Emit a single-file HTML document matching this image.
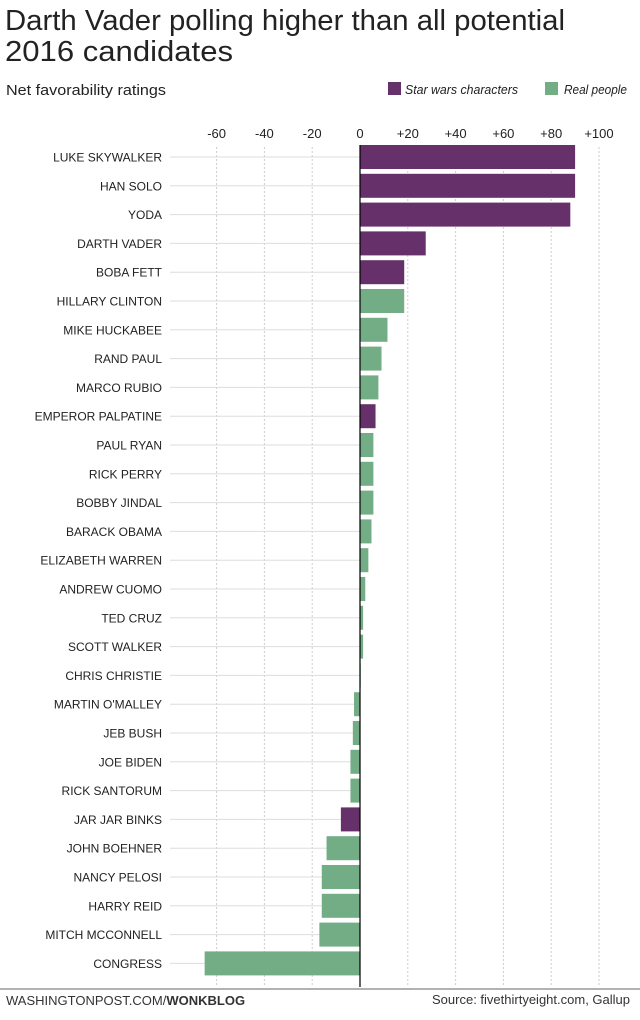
<!DOCTYPE html>
<html><head><meta charset="utf-8"><style>
body{margin:0;background:#fff;width:640px;height:1015px;overflow:hidden;font-family:"Liberation Sans",sans-serif}
</style></head><body>
<svg width="640" height="1015" xmlns="http://www.w3.org/2000/svg" font-family="Liberation Sans, sans-serif">
<text x="5" y="30" font-size="29" fill="#222" textLength="560" lengthAdjust="spacingAndGlyphs">Darth Vader polling higher than all potential</text>
<text x="5" y="61" font-size="29" fill="#222" textLength="228" lengthAdjust="spacingAndGlyphs">2016 candidates</text>
<text x="6" y="95" font-size="15" fill="#222" textLength="160" lengthAdjust="spacingAndGlyphs">Net favorability ratings</text>
<rect x="388" y="82" width="13" height="13" fill="#66306b"/>
<text x="405" y="94" font-size="12.5" font-style="italic" fill="#222" textLength="113" lengthAdjust="spacingAndGlyphs">Star wars characters</text>
<rect x="545" y="82" width="13" height="13" fill="#72ad86"/>
<text x="564" y="94" font-size="12.5" font-style="italic" fill="#222" textLength="63" lengthAdjust="spacingAndGlyphs">Real people</text>
<g id="grid" stroke="#ccc" stroke-width="1" stroke-dasharray="2,2"></g>
<g id="rows"></g>
<line x1="360" y1="145" x2="360" y2="987" stroke="#000" stroke-width="1.2"/>
<line x1="0" y1="989" x2="640" y2="989" stroke="#999" stroke-width="1.5"/>
<text x="6" y="1005" font-size="13" fill="#333">WASHINGTONPOST.COM/<tspan font-weight="bold">WONKBLOG</tspan></text>
<text x="630" y="1004" font-size="13" fill="#333" text-anchor="end">Source: fivethirtyeight.com, Gallup</text>
</svg>
<script>
var ns="http://www.w3.org/2000/svg",svg=document.querySelector('svg');
function el(t,a,p){var e=document.createElementNS(ns,t);for(var k in a)e.setAttribute(k,a[k]);(p||svg).appendChild(e);return e;}
var z=360,s=2.39;
var ticks=[-60,-40,-20,0,20,40,60,80,100];
var g=document.getElementById('grid'),r=document.getElementById('rows');
ticks.forEach(function(t){var x=z+t*s;
 if(t!=0)el('line',{x1:x,y1:147,x2:x,y2:986},g);
 var tx=el('text',{x:x,y:138,'font-size':13,fill:'#222','text-anchor':'middle'});tx.textContent=(t>0?'+':'')+t;});
var d=[["LUKE SKYWALKER",90,1],["HAN SOLO",90,1],["YODA",88,1],["DARTH VADER",27.5,1],["BOBA FETT",18.5,1],["HILLARY CLINTON",18.5,0],["MIKE HUCKABEE",11.5,0],["RAND PAUL",9,0],["MARCO RUBIO",7.7,0],["EMPEROR PALPATINE",6.5,1],["PAUL RYAN",5.6,0],["RICK PERRY",5.6,0],["BOBBY JINDAL",5.6,0],["BARACK OBAMA",4.8,0],["ELIZABETH WARREN",3.5,0],["ANDREW CUOMO",2.2,0],["TED CRUZ",1.3,0],["SCOTT WALKER",1.3,0],["CHRIS CHRISTIE",0.3,0],["MARTIN O'MALLEY",-2.5,0],["JEB BUSH",-3,0],["JOE BIDEN",-4,0],["RICK SANTORUM",-4,0],["JAR JAR BINKS",-8,1],["JOHN BOEHNER",-14,0],["NANCY PELOSI",-16,0],["HARRY REID",-16,0],["MITCH MCCONNELL",-17,0],["CONGRESS",-65,0]];
d.forEach(function(v,i){var y=157+i*28.8;
 var t=el('text',{x:162,y:y+4.5,'font-size':12,fill:'#222','text-anchor':'end'},r);t.textContent=v[0];
 var x0=z+Math.min(0,v[1])*s,w=Math.abs(v[1])*s;
 el('line',{x1:170,y1:y,x2:Math.min(x0,z),y2:y,stroke:'#ddd','stroke-width':1},r);
 el('rect',{x:x0,y:y-12,width:w,height:24,fill:v[2]?'#66306b':'#72ad86'},r);});
</script>
</body></html>
